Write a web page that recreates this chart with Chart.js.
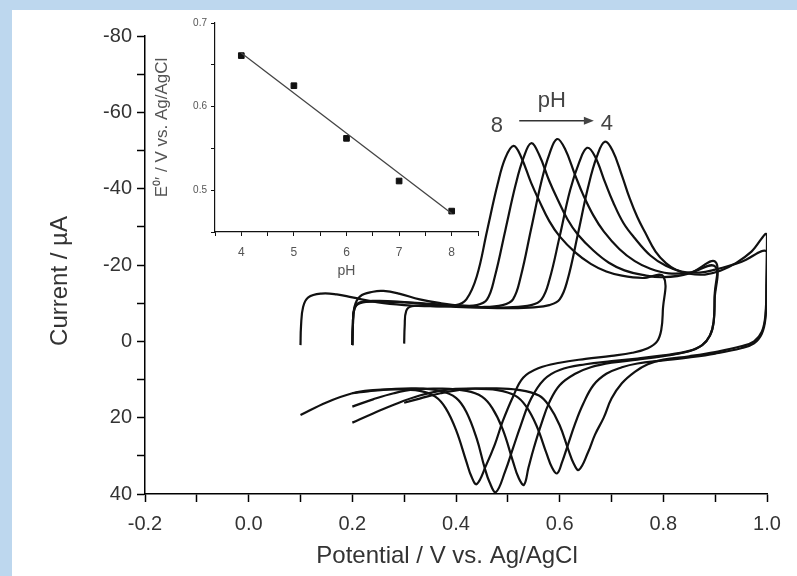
<!DOCTYPE html>
<html>
<head>
<meta charset="utf-8">
<script src="https://cdn.jsdelivr.net/npm/chart.js@4"></script>
<style>
  html, body { margin: 0; padding: 0; }
  body { width: 797px; height: 576px; background: #bdd7ee; position: relative; overflow: hidden; }
  #panel { position: absolute; left: 12px; top: 10px; right: 0; bottom: 0; background: #fff; }
  canvas { position: absolute; left: 0; top: 0; }
</style>
</head>
<body>
<div id="panel"></div>
<canvas id="main" width="797" height="576"></canvas>
<canvas id="inset" width="797" height="576"></canvas>
<script>
// cyclic voltammograms, one closed loop per pH (forward sweep then reverse sweep)
const potential8 = [0.100,0.101,0.105,0.115,0.14,0.17,0.20,0.25,0.30,0.35,0.40,0.42,0.44,0.46,0.48,0.495,0.511,0.525,0.545,0.56,0.58,0.60,0.63,0.66,0.69,0.72,0.76,0.80,0.799,0.796,0.788,0.77,0.74,0.70,0.65,0.60,0.56,0.53,0.51,0.49,0.475,0.458,0.44,0.43,0.42,0.40,0.38,0.36,0.33,0.28,0.24,0.20,0.15,0.10]
const current8 = [1,-4,-9,-11.5,-12.5,-12.3,-11.5,-10.2,-9.5,-9.2,-9.5,-11,-17,-29,-41,-48,-51.2,-48.5,-41.5,-37,-31.5,-27.5,-23.3,-20.3,-18.3,-17.2,-16.6,-17,-8,-3,0,1.8,3,3.8,4.6,5.6,7,9.5,14.5,21,27,32.5,37.4,35.5,31.5,23.2,17.5,14.5,13,12.6,12.8,13.6,16,19.3]

const potential7 = [0.200,0.201,0.204,0.215,0.24,0.26,0.29,0.33,0.37,0.41,0.44,0.46,0.475,0.495,0.515,0.53,0.545,0.56,0.58,0.595,0.615,0.635,0.665,0.695,0.725,0.76,0.80,0.85,0.90,0.899,0.897,0.89,0.875,0.85,0.80,0.75,0.70,0.65,0.60,0.57,0.545,0.525,0.51,0.495,0.477,0.465,0.455,0.44,0.42,0.40,0.37,0.32,0.27,0.23,0.20]
const current7 = [1,-4,-9,-11.8,-13,-13.2,-12.5,-11,-10,-9.4,-9.5,-11,-17,-29,-41,-48,-51.9,-49,-42,-37.5,-32,-28,-23.8,-20.6,-18.6,-17.4,-16.8,-17.8,-20.9,-12,-5,-1.5,1,2.5,3.7,4.5,5.2,6,7.5,10,15,22,28,34,39.5,37,33,25.5,18.5,14.8,13,12.3,12.6,13.1,13.6]

const potential6 = [0.200,0.201,0.204,0.215,0.25,0.30,0.35,0.40,0.45,0.49,0.51,0.525,0.545,0.565,0.58,0.595,0.61,0.63,0.645,0.665,0.685,0.715,0.745,0.775,0.81,0.85,0.90,0.899,0.897,0.89,0.875,0.85,0.80,0.75,0.70,0.66,0.63,0.60,0.58,0.565,0.55,0.54,0.531,0.52,0.51,0.49,0.47,0.45,0.42,0.37,0.32,0.28,0.24,0.20]
const current6 = [1,-4,-8.5,-10.2,-10.6,-10.3,-9.8,-9.3,-9,-9.5,-11,-17,-29.5,-42,-49,-53,-50.5,-43.5,-38.5,-33,-28.8,-24.2,-21,-19,-17.8,-18,-19.6,-11,-5,-1.5,1,2.6,3.9,4.8,5.6,6.8,8.5,11.5,16,21.5,28,33,37.6,35.5,31.5,23,17.5,14.5,13,12.4,12.6,13.6,15.2,17.1]

const potential5 = [0.200,0.201,0.204,0.215,0.25,0.30,0.35,0.40,0.45,0.50,0.545,0.565,0.58,0.60,0.62,0.638,0.653,0.668,0.688,0.703,0.723,0.745,0.775,0.805,0.835,0.87,0.90,0.95,1.00,0.999,0.997,0.99,0.975,0.95,0.90,0.85,0.80,0.75,0.72,0.69,0.665,0.645,0.63,0.615,0.605,0.595,0.585,0.575,0.555,0.535,0.515,0.48,0.43,0.38,0.33,0.28,0.24,0.20]
const current5 = [1,-4,-8.5,-10,-10.4,-10.2,-9.7,-9.2,-8.9,-8.9,-9.5,-11,-16,-27.5,-39.5,-47,-50.7,-48.5,-41.5,-36.5,-31,-27,-22.5,-19.8,-18.3,-18,-18.8,-20.8,-23.5,-14,-6,-2,0.5,1.8,3.2,4.2,5,5.8,6.8,8.5,11.5,16.5,21.5,27.5,31.5,34.6,33,29.5,22,17,14.3,12.8,12.4,12.7,14.2,16.6,18.9,21.3]

const potential4 = [0.300,0.301,0.304,0.315,0.35,0.40,0.45,0.50,0.55,0.58,0.60,0.615,0.635,0.655,0.672,0.687,0.702,0.72,0.735,0.75,0.765,0.785,0.805,0.825,0.85,0.88,0.91,0.94,0.97,1.00,0.999,0.997,0.99,0.975,0.95,0.90,0.85,0.80,0.77,0.745,0.72,0.70,0.685,0.668,0.655,0.637,0.627,0.617,0.60,0.58,0.56,0.52,0.47,0.42,0.37,0.33,0.30]
const current4 = [0.6,-4,-8,-9.2,-9.3,-9,-8.8,-8.7,-8.9,-9.5,-11,-16,-28,-40.5,-48.5,-52.3,-50,-43.5,-37.5,-32.5,-28.5,-23.5,-20.5,-18.7,-17.7,-17.5,-18.5,-20.5,-23.5,-28,-16,-7,-2.5,0,1.3,2.8,3.9,4.8,6,8,11,15,20,24.5,29,33.7,32,28.5,22,17,14.2,12.7,12.3,12.5,13.6,15,16.1]

// inset: formal potential vs pH
const insetPH = [4, 5, 6, 7, 8]
const insetE0 = [0.661, 0.625, 0.562, 0.511, 0.475]
const fitPH = [4, 8]
const fitE0 = [0.664, 0.472]

// "8 -> pH -> 4" annotation, in data units
const arrowFrom = [0.522, -57.8]
const arrowTo = [0.666, -57.8]
const annotTexts = [
  { text: "8", x: 0.479, y: -56.5 },
  { text: "pH", x: 0.585, y: -63.0 },
  { text: "4", x: 0.691, y: -57.0 }
]

const curves = [
  [potential8, current8],
  [potential7, current7],
  [potential6, current6],
  [potential5, current5],
  [potential4, current4]
]

const FONT = "'Liberation Sans', Arial, sans-serif"
const toPoints = (xs, ys) => xs.map((x, i) => ({ x: x, y: ys[i] }))

const annotPlugin = {
  id: "annot",
  afterDraw(chart) {
    const ctx = chart.ctx
    const xs = chart.scales.x
    const ys = chart.scales.y
    ctx.save()
    ctx.fillStyle = "#444"
    ctx.strokeStyle = "#333"
    ctx.textAlign = "center"
    ctx.textBaseline = "middle"
    ctx.font = "22px " + FONT
    annotTexts.forEach((a) => {
      ctx.fillText(a.text, xs.getPixelForValue(a.x), ys.getPixelForValue(a.y))
    })
    const x1 = xs.getPixelForValue(arrowFrom[0])
    const x2 = xs.getPixelForValue(arrowTo[0])
    const y1 = ys.getPixelForValue(arrowFrom[1])
    ctx.lineWidth = 1.6
    ctx.beginPath()
    ctx.moveTo(x1, y1)
    ctx.lineTo(x2 - 8, y1)
    ctx.stroke()
    ctx.beginPath()
    ctx.moveTo(x2, y1)
    ctx.lineTo(x2 - 10, y1 - 4)
    ctx.lineTo(x2 - 10, y1 + 4)
    ctx.closePath()
    ctx.fill()

    // axis titles
    ctx.fillStyle = "#333"
    ctx.font = "24px " + FONT
    ctx.fillText("Potential / V vs. Ag/AgCl", 447, 556)
    ctx.translate(60, 281)
    ctx.rotate(-Math.PI / 2)
    ctx.fillText("Current / µA", 0, 0)
    ctx.restore()
  }
}

new Chart(document.getElementById("main"), {
  type: "line",
  data: {
    datasets: curves.map((c) => ({
      data: toPoints(c[0], c[1]),
      borderColor: "#111",
      borderWidth: 2.2,
      pointRadius: 0,
      fill: false,
      tension: 0.4
    }))
  },
  options: {
    responsive: false,
    animation: false,
    events: [],
    layout: { padding: { left: 0, right: 30, top: 36, bottom: 0 } },
    plugins: { legend: { display: false }, tooltip: { enabled: false } },
    scales: {
      x: {
        type: "linear",
        min: -0.2,
        max: 1.0,
        afterFit: (s) => { s.height = 82 },
        border: { display: true, color: "#000", width: 1.5 },
        grid: { drawOnChartArea: false, drawTicks: true, tickLength: 8, tickColor: "#000", tickWidth: 1.5 },
        ticks: {
          stepSize: 0.1,
          padding: 10,
          color: "#333",
          font: { family: FONT, size: 20 },
          maxRotation: 0,
          autoSkip: false,
          callback: (v) => (Math.round(v * 10) % 2 === 0 ? (Math.abs(v) < 1e-9 ? 0 : v).toFixed(1) : "")
        }
      },
      y: {
        type: "linear",
        reverse: true,
        min: -80,
        max: 40,
        afterFit: (s) => { s.width = 145 },
        border: { display: true, color: "#000", width: 1.5 },
        grid: { drawOnChartArea: false, drawTicks: true, tickLength: 8, tickColor: "#000", tickWidth: 1.5 },
        ticks: {
          stepSize: 10,
          padding: 5,
          color: "#333",
          font: { family: FONT, size: 20 },
          autoSkip: false,
          callback: (v) => (Math.round(v) % 20 === 0 ? String(v) : "")
        }
      }
    }
  },
  plugins: [annotPlugin]
})

new Chart(document.getElementById("inset"), {
  type: "line",
  data: {
    datasets: [
      {
        data: toPoints(fitPH, fitE0),
        borderColor: "#444",
        borderWidth: 1.3,
        pointRadius: 0,
        fill: false
      },
      {
        data: toPoints(insetPH, insetE0),
        showLine: false,
        pointStyle: "rect",
        pointRadius: 4,
        pointBackgroundColor: "#111",
        pointBorderColor: "#111"
      }
    ]
  },
  options: {
    responsive: false,
    animation: false,
    events: [],
    layout: { padding: { left: 155, right: 319, top: 23, bottom: 296 } },
    plugins: { legend: { display: false }, tooltip: { enabled: false } },
    scales: {
      x: {
        type: "linear",
        min: 3.5,
        max: 8.5,
        afterFit: (s) => { s.height = 48 },
        border: { display: true, color: "#111", width: 1.2 },
        grid: { drawOnChartArea: false, drawTicks: true, tickLength: 4, tickColor: "#111" },
        ticks: {
          stepSize: 0.5,
          padding: 9,
          color: "#555",
          font: { family: FONT, size: 12 },
          maxRotation: 0,
          autoSkip: false,
          callback: (v) => (Math.abs(v - Math.round(v)) < 1e-6 ? String(Math.round(v)) : "")
        },
        title: {
          display: true,
          text: "pH",
          color: "#555",
          padding: 0,
          font: { family: FONT, size: 14 }
        }
      },
      y: {
        type: "linear",
        min: 0.45,
        max: 0.7,
        afterFit: (s) => { s.width = 60 },
        border: { display: true, color: "#111", width: 1.2 },
        grid: { drawOnChartArea: false, drawTicks: true, tickLength: 4, tickColor: "#111" },
        ticks: {
          stepSize: 0.05,
          padding: 4,
          color: "#555",
          font: { family: FONT, size: 10 },
          autoSkip: false,
          callback: (v) => (Math.round(v * 100) % 10 === 0 ? v.toFixed(1) : "")
        },
        title: {
          display: true,
          text: "E⁰′ / V vs. Ag/AgCl",
          color: "#555",
          padding: { top: -3, bottom: 0 },
          font: { family: FONT, size: 17 }
        }
      }
    }
  }
})
</script>
</body>
</html>
